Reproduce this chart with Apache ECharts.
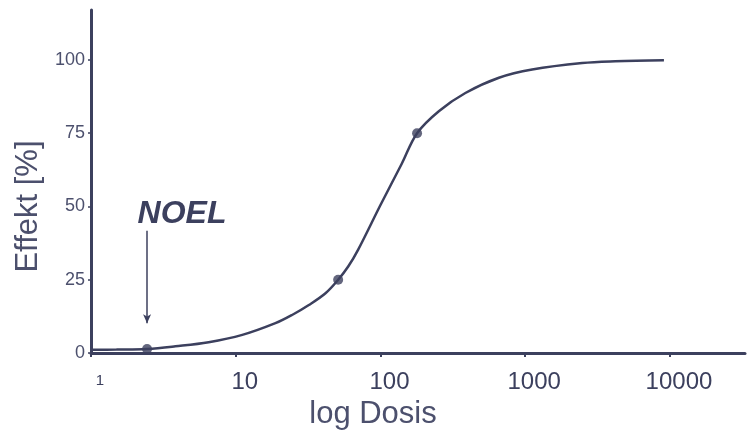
<!DOCTYPE html>
<html>
<head>
<meta charset="utf-8">
<script src="https://cdn.jsdelivr.net/npm/echarts@6/dist/echarts.min.js"></script>
<style>
  html, body { margin: 0; padding: 0; background: #ffffff; }
  #chart { width: 747px; height: 435px; }
</style>
</head>
<body>
<div id="chart"></div>
<script>
// Dose–response curve (log dose vs. effect in %)
const dose   = [1, 1.5, 2.44, 3.83, 6.5, 11.1, 18.8, 24.5, 32, 41.7, 51, 60, 70, 100, 140, 179, 253, 386, 658, 1117, 2477, 4190, 9090];
const effect = [1.1, 1.2, 1.4, 2.3, 3.7, 6.2, 10.2, 13.0, 16.4, 20.4, 25, 29.6, 35.2, 50.5, 64.5, 75, 82.5, 88.7, 93.9, 96.7, 98.9, 99.5, 99.9];

// Highlighted points on the curve
const markerDose   = [2.44, 51, 179];
const markerEffect = [1.4, 25, 75];

// NOEL annotation: arrow from label down to the curve
const noelLabel = 'NOEL';
const noelDose = 2.44;
const noelArrowEffect = [41.7, 10.2];

// Axis ticks and titles
const xTicks = [1, 10, 100, 1000, 10000];
const yTicks = [0, 25, 50, 75, 100];
const xTitle = 'log Dosis';
const yTitle = 'Effekt [%]';

const ink = '#3c405e';
const textInk = '#4c506d';
const font = '"Liberation Sans", Arial, Helvetica, sans-serif';

const chart = echarts.init(document.getElementById('chart'));

chart.setOption({
  backgroundColor: '#ffffff',
  animation: false,
  grid: { left: 91, right: 2, top: 10, bottom: 80 },
  xAxis: {
    type: 'log',
    logBase: 10,
    min: 1,
    max: 33000,
    name: xTitle,
    nameLocation: 'middle',
    nameGap: 45,
    nameTextStyle: {
      fontFamily: font, fontSize: 31, color: textInk,
      padding: [0, 90, 0, 0]
    },
    axisLine: { show: true, lineStyle: { color: ink, width: 3 } },
    axisTick: {
      show: true, inside: false, length: 4,
      lineStyle: { color: ink, width: 2 },
      customValues: xTicks
    },
    axisLabel: {
      customValues: xTicks,
      margin: 17,
      fontFamily: font,
      fontSize: 24,
      color: ink,
      padding: [0, 0, 0, 18],
      formatter: v => (v === 1 ? '{s|1}' : String(v)),
      rich: { s: { fontFamily: font, fontSize: 15, color: ink, padding: [3, 0, 0, 0] } }
    },
    splitLine: { show: false }
  },
  yAxis: {
    type: 'value',
    min: 0,
    max: 117,
    name: yTitle,
    nameLocation: 'middle',
    nameRotate: 90,
    nameGap: 40,
    nameTextStyle: {
      fontFamily: font, fontSize: 31, color: textInk,
      padding: [0, 50, 0, 0]
    },
    axisLine: { show: true, lineStyle: { color: ink, width: 3 } },
    axisTick: {
      show: true, inside: false, length: 3,
      lineStyle: { color: ink, width: 1.5 },
      customValues: yTicks
    },
    axisLabel: {
      customValues: yTicks,
      margin: 6,
      fontFamily: font,
      fontSize: 18,
      color: textInk
    },
    splitLine: { show: false }
  },
  series: [
    {
      type: 'line',
      data: dose.map((d, i) => [d, effect[i]]),
      smooth: 0.35,
      symbol: 'none',
      lineStyle: { color: ink, width: 2.5 },
      markLine: {
        silent: true,
        symbol: ['none', 'arrow'],
        symbolSize: [6, 9],
        lineStyle: { color: ink, width: 1.5, type: 'solid' },
        label: { show: false },
        data: [[
          { coord: [noelDose, noelArrowEffect[0]] },
          { coord: [noelDose, noelArrowEffect[1]] }
        ]]
      },
      markPoint: {
        silent: true,
        symbol: 'circle',
        symbolSize: 0,
        label: {
          show: true,
          position: 'top',
          distance: 1,
          offset: [35, 0],
          formatter: noelLabel,
          fontFamily: font,
          fontSize: 32,
          fontWeight: 'bold',
          fontStyle: 'italic',
          color: ink
        },
        data: [{ coord: [noelDose, noelArrowEffect[0]] }]
      }
    },
    {
      type: 'scatter',
      data: markerDose.map((d, i) => [d, markerEffect[i]]),
      symbol: 'circle',
      symbolSize: 10,
      itemStyle: { color: ink },
      z: 3
    }
  ]
});
</script>
</body>
</html>
